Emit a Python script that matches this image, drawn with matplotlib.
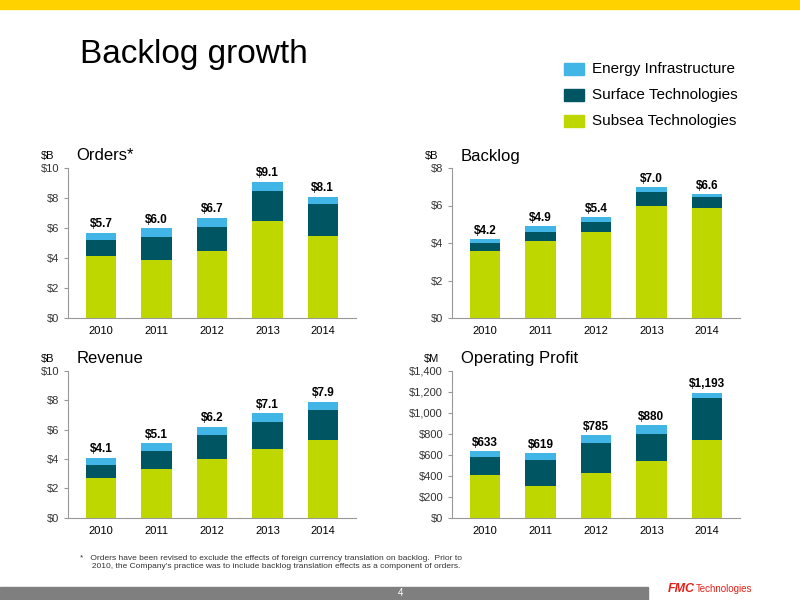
import matplotlib.pyplot as plt
import matplotlib.patches as mpatches

plt.rcParams['font.family'] = ['Liberation Sans', 'DejaVu Sans']

years = ['2010', '2011', '2012', '2013', '2014']

orders_subsea = [4.15, 3.9, 4.5, 6.5, 5.5]
orders_surface = [1.05, 1.5, 1.55, 2.0, 2.1]
orders_total = [5.7, 6.0, 6.7, 9.1, 8.1]

backlog_subsea = [3.6, 4.1, 4.6, 6.0, 5.85]
backlog_surface = [0.4, 0.5, 0.5, 0.7, 0.6]
backlog_total = [4.2, 4.9, 5.4, 7.0, 6.6]

revenue_subsea = [2.7, 3.3, 4.0, 4.7, 5.3]
revenue_surface = [0.9, 1.25, 1.6, 1.8, 2.05]
revenue_total = [4.1, 5.1, 6.2, 7.1, 7.9]

op_subsea = [405, 300, 425, 545, 745]
op_surface = [175, 255, 290, 255, 400]
op_total = [633, 619, 785, 880, 1193]

GREEN = '#bfd700'
TEAL = '#005563'
BLUE = '#41b6e6'

fig = plt.figure(figsize=(8, 6), dpi=100)
fig.patches.append(mpatches.Rectangle((0, 0.985), 1, 0.015, transform=fig.transFigure, color='#ffd200'))
fig.patches.append(mpatches.Rectangle((0, 0), 0.81, 0.022, transform=fig.transFigure, color='#7f7f7f'))
fig.text(0.5, 0.011, '4', color='white', fontsize=7, ha='center', va='center')
fig.text(0.835, 0.018, 'FMC', color='#e2231a', fontsize=9, fontweight='bold', va='center', style='italic')
fig.text(0.87, 0.018, 'Technologies', color='#e2231a', fontsize=7, va='center')
fig.text(0.1, 0.895, 'Backlog growth', fontsize=24)

# legend
for i, (lab, col) in enumerate([('Energy Infrastructure', BLUE), ('Surface Technologies', TEAL), ('Subsea Technologies', GREEN)]):
    y = 0.885 - i * 0.043
    fig.patches.append(mpatches.Rectangle((0.705, y - 0.01), 0.025, 0.02, transform=fig.transFigure, color=col))
    fig.text(0.74, y, lab, fontsize=11, va='center')


def panel(rect, subsea, surface, total, ymax, step, unit, title, fmt):
    ax = fig.add_axes(rect)
    energy = [t - a - b for t, a, b in zip(total, subsea, surface)]
    bot2 = subsea
    bot3 = [a + b for a, b in zip(subsea, surface)]
    ax.bar(years, subsea, width=0.55, color=GREEN)
    ax.bar(years, surface, width=0.55, bottom=bot2, color=TEAL)
    ax.bar(years, energy, width=0.55, bottom=bot3, color=BLUE)
    for x, t in zip(years, total):
        ax.text(x, t + ymax * 0.015, fmt(t), ha='center', va='bottom', fontsize=8.5, fontweight='bold')
    ax.set_ylim(0, ymax)
    ax.set_xlim(-0.6, 4.6)
    ticks = list(range(0, ymax + 1, step))
    ax.set_yticks(ticks)
    ax.set_yticklabels([f'${t:,}' for t in ticks], fontsize=8, color='#333333')
    ax.tick_params(axis='x', labelsize=8, length=0, pad=6)
    ax.tick_params(axis='y', length=3, color='#999999')
    for s in ['top', 'right']:
        ax.spines[s].set_visible(False)
    for s in ['left', 'bottom']:
        ax.spines[s].set_color('#999999')
    ax.text(-0.07, 1.06, unit, transform=ax.transAxes, fontsize=8, ha='center')
    ax.text(0.03, 1.05, title, transform=ax.transAxes, fontsize=12)
    return ax


panel([0.085, 0.47, 0.36, 0.25], orders_subsea, orders_surface, orders_total, 10, 2, '$B', 'Orders*', lambda v: f'${v:.1f}')
panel([0.565, 0.47, 0.36, 0.25], backlog_subsea, backlog_surface, backlog_total, 8, 2, '$B', 'Backlog', lambda v: f'${v:.1f}')
panel([0.085, 0.137, 0.36, 0.245], revenue_subsea, revenue_surface, revenue_total, 10, 2, '$B', 'Revenue', lambda v: f'${v:.1f}')
panel([0.565, 0.137, 0.36, 0.245], op_subsea, op_surface, op_total, 1400, 200, '$M', 'Operating Profit', lambda v: f'${v:,.0f}')

fig.text(0.1, 0.062, '*   Orders have been revised to exclude the effects of foreign currency translation on backlog.  Prior to\n'
         '     2010, the Company\'s practice was to include backlog translation effects as a component of orders.',
         fontsize=6, color='#333333', va='center')

fig.savefig('out.png')
